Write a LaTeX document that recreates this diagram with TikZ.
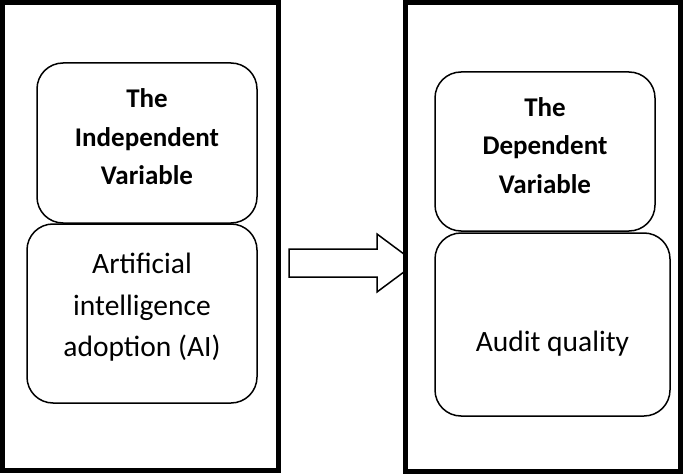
\documentclass[tikz,border=0pt]{standalone}
\usepackage{fontspec}
\setmainfont{Carlito}
\begin{document}
\begin{tikzpicture}[x=1pt,y=-1pt,
  outerbox/.style={draw=black, line width=5pt, fill=white, inner sep=0pt, outer sep=0pt},
  rbox/.style={draw=black, line width=1.5pt, rounded corners=26pt, fill=white, inner sep=0pt, outer sep=0pt},
  headtxt/.style={align=center, font=\fontsize{27}{38.5}\selectfont\bfseries, inner sep=0pt},
  bodytxt/.style={align=center, font=\fontsize{29.5}{41.5}\selectfont, inner sep=0pt},
  blockarrow/.style={draw=black, line width=1.5pt, fill=white, line join=miter}]
\useasboundingbox (0,0) rectangle (685,476);
% left column
\node[outerbox, minimum width=276pt, minimum height=468pt] (L) at (140.5,236.5) {};
\node[rbox, minimum width=220pt, minimum height=160pt] (LT) at (147,143) {};
\node[rbox, minimum width=230pt, minimum height=179pt] (LB) at (142,313.5) {};
\node[headtxt] (LTt) at (147,137) {The\\Independent\\Variable};
\node[bodytxt] (LBt) at (142,307.5) {Artificial\\intelligence\\adoption (AI)};
% block arrow
\coordinate (a1) at (289,249);
\draw[blockarrow] (a1) -- (377,249) -- (377,234) -- (416,263) -- (377,292) -- (377,277) -- (289,277) -- cycle;
% right column
\node[outerbox, minimum width=275pt, minimum height=469pt] (R) at (543,237) {};
\node[rbox, minimum width=220pt, minimum height=159pt] (RT) at (545,151.5) {};
\node[rbox, minimum width=235pt, minimum height=183pt] (RB) at (552.5,324.5) {};
\node[headtxt] (RTt) at (545,145.5) {The\\Dependent\\Variable};
\node[bodytxt, anchor=base] (RBt) at (552.5,351) {Audit quality};
\end{tikzpicture}
\end{document}
